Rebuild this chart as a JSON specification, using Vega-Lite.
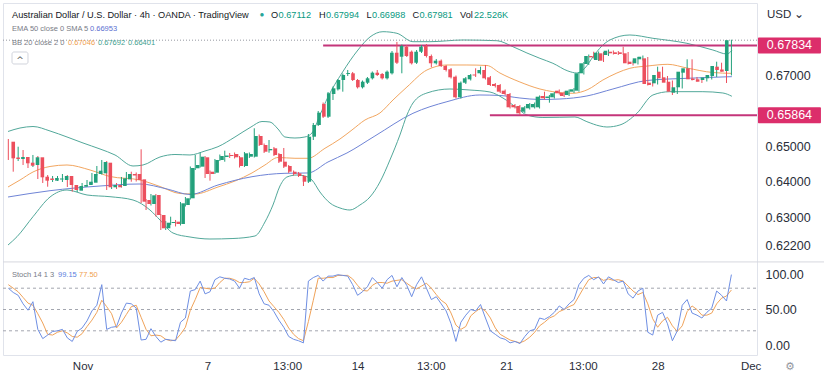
{
"$schema": "https://vega.github.io/schema/vega-lite/v6.json",
"width": 754, "height": 352,
"autosize": {"type": "none"},
"padding": {"left": 3, "top": 3, "right": 67, "bottom": 30},
"background": "white",
"config": {"view": {"stroke": "#e0e3eb"}, "font": "Liberation Sans", "text": {"font": "Liberation Sans"}},
"datasets": {
"candles": [
{"i":0,"o":0.65121,"h":0.65197,"l":0.64606,"c":0.64653},
{"i":1,"o":0.64676,"h":0.64803,"l":0.64276,"c":0.64634},
{"i":2,"o":0.64634,"h":0.64980,"l":0.64577,"c":0.64690},
{"i":3,"o":0.64690,"h":0.64887,"l":0.64465,"c":0.64513},
{"i":4,"o":0.64530,"h":0.64577,"l":0.64380,"c":0.64445},
{"i":5,"o":0.64465,"h":0.64747,"l":0.64408,"c":0.64682},
{"i":6,"o":0.64682,"h":0.64718,"l":0.64070,"c":0.64118},
{"i":7,"o":0.64135,"h":0.64183,"l":0.63958,"c":0.64023},
{"i":8,"o":0.64085,"h":0.64183,"l":0.63853,"c":0.64042},
{"i":9,"o":0.64023,"h":0.64155,"l":0.63986,"c":0.64099},
{"i":10,"o":0.64056,"h":0.64155,"l":0.64014,"c":0.64085},
{"i":11,"o":0.64042,"h":0.64211,"l":0.63986,"c":0.64155},
{"i":12,"o":0.64155,"h":0.64183,"l":0.63845,"c":0.63901},
{"i":13,"o":0.63901,"h":0.63930,"l":0.63713,"c":0.63761},
{"i":14,"o":0.63741,"h":0.63901,"l":0.63704,"c":0.63873},
{"i":15,"o":0.63853,"h":0.63958,"l":0.63817,"c":0.63901},
{"i":16,"o":0.63901,"h":0.64042,"l":0.63859,"c":0.63994},
{"i":17,"o":0.63966,"h":0.64239,"l":0.63930,"c":0.64211},
{"i":18,"o":0.64211,"h":0.64437,"l":0.64169,"c":0.64304},
{"i":19,"o":0.64231,"h":0.64606,"l":0.64197,"c":0.64549},
{"i":20,"o":0.64530,"h":0.64577,"l":0.63761,"c":0.63837},
{"i":21,"o":0.63837,"h":0.63958,"l":0.63789,"c":0.63901},
{"i":22,"o":0.63901,"h":0.63958,"l":0.63789,"c":0.63837},
{"i":23,"o":0.63873,"h":0.64127,"l":0.63831,"c":0.64090},
{"i":24,"o":0.64061,"h":0.64268,"l":0.64028,"c":0.64211},
{"i":25,"o":0.64211,"h":0.64276,"l":0.63994,"c":0.64169},
{"i":26,"o":0.64211,"h":0.64254,"l":0.64000,"c":0.64042},
{"i":27,"o":0.64061,"h":0.64907,"l":0.63394,"c":0.63431},
{"i":28,"o":0.63479,"h":0.63507,"l":0.63197,"c":0.63366},
{"i":29,"o":0.63366,"h":0.63648,"l":0.63324,"c":0.63611},
{"i":30,"o":0.63620,"h":0.63648,"l":0.63014,"c":0.63056},
{"i":31,"o":0.63056,"h":0.63084,"l":0.62634,"c":0.62682},
{"i":32,"o":0.62682,"h":0.62887,"l":0.62634,"c":0.62839},
{"i":33,"o":0.62831,"h":0.63009,"l":0.62775,"c":0.62859},
{"i":34,"o":0.62868,"h":0.62916,"l":0.62733,"c":0.62803},
{"i":35,"o":0.62803,"h":0.63423,"l":0.62761,"c":0.63386},
{"i":36,"o":0.63338,"h":0.63563,"l":0.63296,"c":0.63527},
{"i":37,"o":0.63527,"h":0.64423,"l":0.63493,"c":0.64380},
{"i":38,"o":0.64372,"h":0.64747,"l":0.64324,"c":0.64465},
{"i":39,"o":0.64418,"h":0.64811,"l":0.64394,"c":0.64699},
{"i":40,"o":0.64682,"h":0.64718,"l":0.64099,"c":0.64211},
{"i":41,"o":0.64276,"h":0.64310,"l":0.64023,"c":0.64211},
{"i":42,"o":0.64248,"h":0.64634,"l":0.64211,"c":0.64606},
{"i":43,"o":0.64606,"h":0.64760,"l":0.64577,"c":0.64718},
{"i":44,"o":0.64690,"h":0.64868,"l":0.64558,"c":0.64732},
{"i":45,"o":0.64747,"h":0.64803,"l":0.64662,"c":0.64718},
{"i":46,"o":0.64775,"h":0.64817,"l":0.64648,"c":0.64682},
{"i":47,"o":0.64682,"h":0.64718,"l":0.64394,"c":0.64437},
{"i":48,"o":0.64437,"h":0.64831,"l":0.64408,"c":0.64794},
{"i":49,"o":0.64699,"h":0.64817,"l":0.64662,"c":0.64775},
{"i":50,"o":0.64699,"h":0.65499,"l":0.64676,"c":0.65282},
{"i":51,"o":0.65282,"h":0.65324,"l":0.65000,"c":0.65028},
{"i":52,"o":0.65028,"h":0.65070,"l":0.64803,"c":0.64839},
{"i":53,"o":0.64879,"h":0.65169,"l":0.64811,"c":0.64916},
{"i":54,"o":0.64935,"h":0.64972,"l":0.64718,"c":0.64747},
{"i":55,"o":0.64775,"h":0.64803,"l":0.64521,"c":0.64558},
{"i":56,"o":0.64558,"h":0.64944,"l":0.64380,"c":0.64418},
{"i":57,"o":0.64437,"h":0.64465,"l":0.64239,"c":0.64276},
{"i":58,"o":0.64276,"h":0.64310,"l":0.64169,"c":0.64211},
{"i":59,"o":0.64231,"h":0.64268,"l":0.64127,"c":0.64155},
{"i":60,"o":0.64155,"h":0.64183,"l":0.63873,"c":0.63994},
{"i":61,"o":0.63994,"h":0.65338,"l":0.63958,"c":0.65262},
{"i":62,"o":0.65262,"h":0.65648,"l":0.65169,"c":0.65592},
{"i":63,"o":0.65592,"h":0.65986,"l":0.65563,"c":0.65938},
{"i":64,"o":0.66183,"h":0.66225,"l":0.65789,"c":0.65825},
{"i":65,"o":0.65825,"h":0.66521,"l":0.65789,"c":0.66485},
{"i":66,"o":0.66465,"h":0.66676,"l":0.66296,"c":0.66625},
{"i":67,"o":0.66597,"h":0.66887,"l":0.66563,"c":0.66859},
{"i":68,"o":0.66859,"h":0.67042,"l":0.66530,"c":0.67000},
{"i":69,"o":0.67028,"h":0.67141,"l":0.66972,"c":0.67056},
{"i":70,"o":0.67048,"h":0.67085,"l":0.66831,"c":0.66859},
{"i":71,"o":0.66859,"h":0.66887,"l":0.66620,"c":0.66654},
{"i":72,"o":0.66654,"h":0.66845,"l":0.66620,"c":0.66811},
{"i":73,"o":0.66783,"h":0.66944,"l":0.66746,"c":0.66907},
{"i":74,"o":0.66907,"h":0.67099,"l":0.66873,"c":0.67065},
{"i":75,"o":0.67065,"h":0.67141,"l":0.66972,"c":0.67000},
{"i":76,"o":0.67028,"h":0.67056,"l":0.66873,"c":0.66907},
{"i":77,"o":0.66907,"h":0.67127,"l":0.66873,"c":0.67093},
{"i":78,"o":0.67048,"h":0.67676,"l":0.67014,"c":0.67628},
{"i":79,"o":0.67628,"h":0.67932,"l":0.67310,"c":0.67346},
{"i":80,"o":0.67515,"h":0.67859,"l":0.67048,"c":0.67817},
{"i":81,"o":0.67797,"h":0.67845,"l":0.67507,"c":0.67535},
{"i":82,"o":0.67656,"h":0.67690,"l":0.67296,"c":0.67330},
{"i":83,"o":0.67346,"h":0.67704,"l":0.67310,"c":0.67656},
{"i":84,"o":0.67656,"h":0.67845,"l":0.67620,"c":0.67797},
{"i":85,"o":0.67817,"h":0.67873,"l":0.67493,"c":0.67535},
{"i":86,"o":0.67535,"h":0.67577,"l":0.67217,"c":0.67330},
{"i":87,"o":0.67330,"h":0.67451,"l":0.67296,"c":0.67403},
{"i":88,"o":0.67403,"h":0.67437,"l":0.67225,"c":0.67254},
{"i":89,"o":0.67254,"h":0.67282,"l":0.67099,"c":0.67141},
{"i":90,"o":0.67161,"h":0.67197,"l":0.66901,"c":0.66935},
{"i":91,"o":0.66952,"h":0.66986,"l":0.66338,"c":0.66372},
{"i":92,"o":0.66372,"h":0.66817,"l":0.66338,"c":0.66783},
{"i":93,"o":0.66783,"h":0.66944,"l":0.66746,"c":0.66907},
{"i":94,"o":0.66879,"h":0.67028,"l":0.66845,"c":0.67000},
{"i":95,"o":0.67014,"h":0.67189,"l":0.66944,"c":0.66986},
{"i":96,"o":0.67048,"h":0.67234,"l":0.67014,"c":0.67141},
{"i":97,"o":0.67141,"h":0.67282,"l":0.66873,"c":0.66907},
{"i":98,"o":0.66935,"h":0.66972,"l":0.66690,"c":0.66718},
{"i":99,"o":0.66746,"h":0.66775,"l":0.66648,"c":0.66690},
{"i":100,"o":0.66718,"h":0.66746,"l":0.66493,"c":0.66530},
{"i":101,"o":0.66558,"h":0.66592,"l":0.66423,"c":0.66465},
{"i":102,"o":0.66465,"h":0.66493,"l":0.66056,"c":0.66090},
{"i":103,"o":0.66155,"h":0.66183,"l":0.66056,"c":0.66090},
{"i":104,"o":0.66127,"h":0.66155,"l":0.65870,"c":0.65921},
{"i":105,"o":0.65966,"h":0.66127,"l":0.65930,"c":0.66090},
{"i":106,"o":0.66062,"h":0.66211,"l":0.66028,"c":0.66183},
{"i":107,"o":0.66090,"h":0.66225,"l":0.66056,"c":0.66183},
{"i":108,"o":0.66090,"h":0.66423,"l":0.66056,"c":0.66389},
{"i":109,"o":0.66408,"h":0.66530,"l":0.66310,"c":0.66344},
{"i":110,"o":0.66352,"h":0.66437,"l":0.66220,"c":0.66394},
{"i":111,"o":0.66372,"h":0.66521,"l":0.66338,"c":0.66485},
{"i":112,"o":0.66558,"h":0.66592,"l":0.66451,"c":0.66485},
{"i":113,"o":0.66501,"h":0.66535,"l":0.66380,"c":0.66408},
{"i":114,"o":0.66437,"h":0.66592,"l":0.66408,"c":0.66558},
{"i":115,"o":0.66530,"h":0.66634,"l":0.66493,"c":0.66597},
{"i":116,"o":0.66558,"h":0.67085,"l":0.66530,"c":0.67048},
{"i":117,"o":0.67048,"h":0.67366,"l":0.67014,"c":0.67330},
{"i":118,"o":0.67310,"h":0.67577,"l":0.67282,"c":0.67535},
{"i":119,"o":0.67535,"h":0.67656,"l":0.67465,"c":0.67498},
{"i":120,"o":0.67423,"h":0.67662,"l":0.67394,"c":0.67628},
{"i":121,"o":0.67611,"h":0.67648,"l":0.67366,"c":0.67403},
{"i":122,"o":0.67563,"h":0.67718,"l":0.67535,"c":0.67684},
{"i":123,"o":0.67656,"h":0.67690,"l":0.67577,"c":0.67611},
{"i":124,"o":0.67639,"h":0.67676,"l":0.67563,"c":0.67592},
{"i":125,"o":0.67639,"h":0.67797,"l":0.67563,"c":0.67592},
{"i":126,"o":0.67611,"h":0.67648,"l":0.67296,"c":0.67330},
{"i":127,"o":0.67375,"h":0.67409,"l":0.67268,"c":0.67310},
{"i":128,"o":0.67330,"h":0.67507,"l":0.67296,"c":0.67470},
{"i":129,"o":0.67442,"h":0.67549,"l":0.67409,"c":0.67515},
{"i":130,"o":0.67470,"h":0.67507,"l":0.66704,"c":0.66746},
{"i":131,"o":0.66783,"h":0.66817,"l":0.66676,"c":0.66718},
{"i":132,"o":0.66766,"h":0.67234,"l":0.66732,"c":0.67000},
{"i":133,"o":0.67093,"h":0.67234,"l":0.66873,"c":0.66907},
{"i":134,"o":0.66935,"h":0.66972,"l":0.66746,"c":0.66783},
{"i":135,"o":0.66811,"h":0.66845,"l":0.66437,"c":0.66530},
{"i":136,"o":0.66501,"h":0.66690,"l":0.66465,"c":0.66654},
{"i":137,"o":0.66654,"h":0.67127,"l":0.66620,"c":0.67093},
{"i":138,"o":0.67065,"h":0.67442,"l":0.67028,"c":0.67189},
{"i":139,"o":0.67189,"h":0.67442,"l":0.66845,"c":0.66879},
{"i":140,"o":0.66901,"h":0.66944,"l":0.66817,"c":0.66859},
{"i":141,"o":0.66879,"h":0.66915,"l":0.66775,"c":0.66811},
{"i":142,"o":0.66859,"h":0.66972,"l":0.66817,"c":0.66930},
{"i":143,"o":0.66907,"h":0.67042,"l":0.66873,"c":0.67000},
{"i":144,"o":0.66972,"h":0.67375,"l":0.66944,"c":0.67254},
{"i":145,"o":0.67234,"h":0.67346,"l":0.67099,"c":0.67141},
{"i":146,"o":0.67155,"h":0.67197,"l":0.66775,"c":0.67093},
{"i":147,"o":0.67112,"h":0.67994,"l":0.66988,"c":0.67981}
],
"bands": [
{"i":-0.06,"s":"up","v":0.65409},{"i":2.38,"s":"up","v":0.65507},{"i":5.02,"s":"up","v":0.65549},{"i":8.48,"s":"up","v":0.65423},{"i":11.93,"s":"up","v":0.65254},{"i":15.18,"s":"up","v":0.65085},{"i":18.64,"s":"up","v":0.64916},{"i":21.69,"s":"up","v":0.64747},{"i":25.35,"s":"up","v":0.64437},{"i":27.38,"s":"up","v":0.64465},{"i":30.83,"s":"up","v":0.64690},{"i":33.88,"s":"up","v":0.64761},{"i":36.93,"s":"up","v":0.64747},{"i":39.98,"s":"up","v":0.64859},{"i":42.62,"s":"up","v":0.64980},{"i":46.08,"s":"up","v":0.65254},{"i":49.33,"s":"up","v":0.65535},{"i":51.57,"s":"up","v":0.65690},{"i":53.19,"s":"up","v":0.65676},{"i":54.82,"s":"up","v":0.65479},{"i":56.24,"s":"up","v":0.65254},{"i":58.27,"s":"up","v":0.65225},{"i":60.3,"s":"up","v":0.65254},{"i":61.73,"s":"up","v":0.65366},{"i":63.35,"s":"up","v":0.65873},{"i":64.98,"s":"up","v":0.66380},{"i":67.83,"s":"up","v":0.67056},{"i":71.08,"s":"up","v":0.67704},{"i":73.52,"s":"up","v":0.68070},{"i":76.16,"s":"up","v":0.68220},{"i":79.0,"s":"up","v":0.68175},{"i":82.26,"s":"up","v":0.67938},{"i":85.71,"s":"up","v":0.67938},{"i":92.42,"s":"up","v":0.67986},{"i":99.33,"s":"up","v":0.67966},{"i":102.58,"s":"up","v":0.67797},{"i":105.43,"s":"up","v":0.67620},{"i":108.07,"s":"up","v":0.67470},{"i":110.71,"s":"up","v":0.67330},{"i":113.76,"s":"up","v":0.67113},{"i":115.59,"s":"up","v":0.67056},{"i":117.22,"s":"up","v":0.67197},{"i":118.84,"s":"up","v":0.67507},{"i":120.67,"s":"up","v":0.67817},{"i":122.3,"s":"up","v":0.67986},{"i":126.36,"s":"up","v":0.68127},{"i":131.04,"s":"up","v":0.68034},{"i":137.95,"s":"up","v":0.67893},{"i":143.23,"s":"up","v":0.67704},{"i":146.07,"s":"up","v":0.67592},{"i":147.09,"s":"up","v":0.67692},
{"i":-0.06,"s":"mid","v":0.63845},{"i":2.38,"s":"mid","v":0.64042},{"i":5.02,"s":"mid","v":0.64268},{"i":8.48,"s":"mid","v":0.64423},{"i":11.93,"s":"mid","v":0.64465},{"i":16.61,"s":"mid","v":0.64324},{"i":20.67,"s":"mid","v":0.64141},{"i":26.77,"s":"mid","v":0.64042},{"i":30.83,"s":"mid","v":0.63859},{"i":34.9,"s":"mid","v":0.63662},{"i":37.95,"s":"mid","v":0.63648},{"i":42.62,"s":"mid","v":0.63845},{"i":46.08,"s":"mid","v":0.64014},{"i":49.53,"s":"mid","v":0.64240},{"i":52.17,"s":"mid","v":0.64465},{"i":54.82,"s":"mid","v":0.64676},{"i":58.27,"s":"mid","v":0.64654},{"i":60.91,"s":"mid","v":0.64654},{"i":64.37,"s":"mid","v":0.64935},{"i":67.42,"s":"mid","v":0.65197},{"i":69.86,"s":"mid","v":0.65451},{"i":72.5,"s":"mid","v":0.65732},{"i":75.55,"s":"mid","v":0.65930},{"i":78.2,"s":"mid","v":0.66296},{"i":81.04,"s":"mid","v":0.66662},{"i":85.1,"s":"mid","v":0.67141},{"i":89.17,"s":"mid","v":0.67282},{"i":93.23,"s":"mid","v":0.67282},{"i":97.3,"s":"mid","v":0.67268},{"i":99.94,"s":"mid","v":0.67056},{"i":104.0,"s":"mid","v":0.66803},{"i":108.07,"s":"mid","v":0.66606},{"i":110.71,"s":"mid","v":0.66530},{"i":114.78,"s":"mid","v":0.66485},{"i":117.83,"s":"mid","v":0.66592},{"i":120.87,"s":"mid","v":0.66859},{"i":123.72,"s":"mid","v":0.67056},{"i":126.36,"s":"mid","v":0.67189},{"i":130.02,"s":"mid","v":0.67254},{"i":134.09,"s":"mid","v":0.67301},{"i":137.95,"s":"mid","v":0.67197},{"i":143.23,"s":"mid","v":0.67070},{"i":147.09,"s":"mid","v":0.67046},
{"i":-0.06,"s":"ema","v":0.63563},{"i":8.48,"s":"ema","v":0.63741},{"i":18.64,"s":"ema","v":0.63873},{"i":26.77,"s":"ema","v":0.63930},{"i":32.26,"s":"ema","v":0.63789},{"i":36.93,"s":"ema","v":0.63634},{"i":42.62,"s":"ema","v":0.63901},{"i":49.53,"s":"ema","v":0.64135},{"i":56.24,"s":"ema","v":0.64231},{"i":60.91,"s":"ema","v":0.64240},{"i":64.98,"s":"ema","v":0.64549},{"i":68.84,"s":"ema","v":0.64803},{"i":74.53,"s":"ema","v":0.65282},{"i":82.26,"s":"ema","v":0.65921},{"i":89.17,"s":"ema","v":0.66248},{"i":95.87,"s":"ema","v":0.66437},{"i":99.94,"s":"ema","v":0.66423},{"i":104.0,"s":"ema","v":0.66352},{"i":108.07,"s":"ema","v":0.66310},{"i":112.13,"s":"ema","v":0.66324},{"i":117.62,"s":"ema","v":0.66409},{"i":122.91,"s":"ema","v":0.66606},{"i":129.82,"s":"ema","v":0.66845},{"i":137.95,"s":"ema","v":0.66907},{"i":147.09,"s":"ema","v":0.66953},
{"i":-0.06,"s":"lo","v":0.62211},{"i":1.77,"s":"lo","v":0.62445},{"i":5.02,"s":"lo","v":0.63009},{"i":8.48,"s":"lo","v":0.63563},{"i":11.93,"s":"lo","v":0.63761},{"i":16.0,"s":"lo","v":0.63620},{"i":20.67,"s":"lo","v":0.63572},{"i":25.35,"s":"lo","v":0.63479},{"i":28.8,"s":"lo","v":0.63197},{"i":30.83,"s":"lo","v":0.62916},{"i":33.48,"s":"lo","v":0.62549},{"i":36.93,"s":"lo","v":0.62437},{"i":40.99,"s":"lo","v":0.62380},{"i":45.67,"s":"lo","v":0.62394},{"i":50.14,"s":"lo","v":0.62465},{"i":52.17,"s":"lo","v":0.62859},{"i":53.8,"s":"lo","v":0.63338},{"i":55.22,"s":"lo","v":0.63873},{"i":56.65,"s":"lo","v":0.64127},{"i":58.68,"s":"lo","v":0.64183},{"i":60.3,"s":"lo","v":0.64155},{"i":61.73,"s":"lo","v":0.64042},{"i":63.35,"s":"lo","v":0.63704},{"i":65.39,"s":"lo","v":0.63394},{"i":67.42,"s":"lo","v":0.63254},{"i":69.45,"s":"lo","v":0.63197},{"i":71.48,"s":"lo","v":0.63338},{"i":73.52,"s":"lo","v":0.63563},{"i":75.55,"s":"lo","v":0.63986},{"i":77.58,"s":"lo","v":0.64606},{"i":79.61,"s":"lo","v":0.65310},{"i":81.04,"s":"lo","v":0.65873},{"i":82.26,"s":"lo","v":0.66211},{"i":85.1,"s":"lo","v":0.66493},{"i":89.78,"s":"lo","v":0.66606},{"i":93.84,"s":"lo","v":0.66577},{"i":97.91,"s":"lo","v":0.66521},{"i":100.55,"s":"lo","v":0.66352},{"i":103.4,"s":"lo","v":0.66070},{"i":105.43,"s":"lo","v":0.65873},{"i":108.68,"s":"lo","v":0.65803},{"i":112.13,"s":"lo","v":0.65809},{"i":115.18,"s":"lo","v":0.65817},{"i":117.62,"s":"lo","v":0.65685},{"i":120.26,"s":"lo","v":0.65563},{"i":121.69,"s":"lo","v":0.65535},{"i":124.33,"s":"lo","v":0.65592},{"i":127.78,"s":"lo","v":0.65921},{"i":131.04,"s":"lo","v":0.66437},{"i":134.49,"s":"lo","v":0.66530},{"i":141.2,"s":"lo","v":0.66530},{"i":145.26,"s":"lo","v":0.66493},{"i":147.09,"s":"lo","v":0.66401}
],
"stoch": [
{"i":0,"k":80,"d":85},{"i":1,"k":74,"d":80},{"i":2,"k":70,"d":75},{"i":3,"k":58,"d":67},{"i":4,"k":49,"d":59},{"i":5,"k":61,"d":56},{"i":6,"k":22,"d":44},{"i":7,"k":9,"d":31},{"i":8,"k":14,"d":15},{"i":9,"k":19,"d":14},
{"i":10,"k":20,"d":18},{"i":11,"k":22,"d":20},{"i":12,"k":10,"d":17},{"i":13,"k":5,"d":12},{"i":14,"k":19,"d":11},{"i":15,"k":24,"d":16},{"i":16,"k":34,"d":26},{"i":17,"k":48,"d":35},{"i":18,"k":56,"d":46},{"i":19,"k":85,"d":63},
{"i":20,"k":22,"d":54},{"i":21,"k":25,"d":44},{"i":22,"k":26,"d":24},{"i":23,"k":45,"d":32},{"i":24,"k":59,"d":43},{"i":25,"k":58,"d":54},{"i":26,"k":52,"d":56},{"i":27,"k":7,"d":39},{"i":28,"k":8,"d":22},{"i":29,"k":23,"d":13},
{"i":30,"k":12,"d":14},{"i":31,"k":4,"d":13},{"i":32,"k":8,"d":8},{"i":33,"k":7,"d":6},{"i":34,"k":6,"d":7},{"i":35,"k":32,"d":15},{"i":36,"k":38,"d":25},{"i":37,"k":76,"d":49},{"i":38,"k":78,"d":64},{"i":39,"k":90,"d":81},
{"i":40,"k":72,"d":80},{"i":41,"k":75,"d":79},{"i":42,"k":92,"d":80},{"i":43,"k":96,"d":88},{"i":44,"k":94,"d":94},{"i":45,"k":93,"d":94},{"i":46,"k":90,"d":92},{"i":47,"k":80,"d":88},{"i":48,"k":94,"d":88},{"i":49,"k":92,"d":89},
{"i":50,"k":95,"d":94},{"i":51,"k":72,"d":86},{"i":52,"k":58,"d":75},{"i":53,"k":56,"d":62},{"i":54,"k":47,"d":54},{"i":55,"k":35,"d":46},{"i":56,"k":25,"d":36},{"i":57,"k":12,"d":24},{"i":58,"k":8,"d":15},{"i":59,"k":6,"d":9},
{"i":60,"k":3,"d":6},{"i":61,"k":90,"d":33},{"i":62,"k":95,"d":63},{"i":63,"k":98,"d":94},{"i":64,"k":90,"d":94},{"i":65,"k":97,"d":95},{"i":66,"k":97,"d":95},{"i":67,"k":99,"d":98},{"i":68,"k":98,"d":98},{"i":69,"k":97,"d":98},
{"i":70,"k":85,"d":93},{"i":71,"k":70,"d":84},{"i":72,"k":75,"d":77},{"i":73,"k":82,"d":76},{"i":74,"k":95,"d":84},{"i":75,"k":88,"d":88},{"i":76,"k":80,"d":88},{"i":77,"k":92,"d":87},{"i":78,"k":98,"d":90},{"i":79,"k":82,"d":91},
{"i":80,"k":95,"d":92},{"i":81,"k":84,"d":87},{"i":82,"k":68,"d":82},{"i":83,"k":85,"d":79},{"i":84,"k":96,"d":83},{"i":85,"k":80,"d":87},{"i":86,"k":64,"d":80},{"i":87,"k":68,"d":71},{"i":88,"k":58,"d":63},{"i":89,"k":48,"d":58},
{"i":90,"k":30,"d":45},{"i":91,"k":5,"d":28},{"i":92,"k":32,"d":22},{"i":93,"k":42,"d":26},{"i":94,"k":50,"d":41},{"i":95,"k":48,"d":47},{"i":96,"k":57,"d":52},{"i":97,"k":38,"d":48},{"i":98,"k":20,"d":38},{"i":99,"k":15,"d":24},
{"i":100,"k":10,"d":15},{"i":101,"k":8,"d":11},{"i":102,"k":3,"d":7},{"i":103,"k":5,"d":5},{"i":104,"k":2,"d":3},{"i":105,"k":12,"d":6},{"i":106,"k":20,"d":11},{"i":107,"k":22,"d":18},{"i":108,"k":38,"d":27},{"i":109,"k":36,"d":32},
{"i":110,"k":40,"d":38},{"i":111,"k":46,"d":41},{"i":112,"k":55,"d":47},{"i":113,"k":50,"d":50},{"i":114,"k":58,"d":54},{"i":115,"k":64,"d":57},{"i":116,"k":85,"d":69},{"i":117,"k":94,"d":81},{"i":118,"k":98,"d":92},{"i":119,"k":92,"d":95},
{"i":120,"k":96,"d":95},{"i":121,"k":86,"d":91},{"i":122,"k":96,"d":93},{"i":123,"k":92,"d":91},{"i":124,"k":88,"d":92},{"i":125,"k":90,"d":90},{"i":126,"k":72,"d":83},{"i":127,"k":66,"d":76},{"i":128,"k":76,"d":71},{"i":129,"k":80,"d":74},
{"i":130,"k":18,"d":58},{"i":131,"k":14,"d":37},{"i":132,"k":42,"d":25},{"i":133,"k":46,"d":34},{"i":134,"k":30,"d":39},{"i":135,"k":6,"d":27},{"i":136,"k":20,"d":19},{"i":137,"k":56,"d":27},{"i":138,"k":64,"d":47},{"i":139,"k":45,"d":55},
{"i":140,"k":42,"d":50},{"i":141,"k":38,"d":42},{"i":142,"k":46,"d":42},{"i":143,"k":52,"d":45},{"i":144,"k":76,"d":58},{"i":145,"k":70,"d":66},{"i":146,"k":62,"d":69},{"i":147,"k":99.15,"d":77.5}
],
"levels": [{"level":0.67834,"start":64,"label":"0.67834"},{"level":0.65864,"start":97.9,"label":"0.65864"}],
"guides": [{"v":20},{"v":50},{"v":80}]
},
"layer": [
{"data":{"name":"bands"},"mark":{"type":"line","strokeWidth":1,"interpolate":"monotone"},
"encoding":{"x":{"field":"i","type":"quantitative","scale":{"domain":[-1.08,152.2],"nice":false,"zero":false},"axis":null},
"y":{"field":"v","type":"quantitative","scale":{"domain":[0.62,0.68],"range":[249.5,36.5],"zero":false,"nice":false},"axis":null},
"color":{"field":"s","type":"nominal","scale":{"domain":["up","mid","lo","ema"],"range":["#52a89a","#f2a660","#52a89a","#6f84d6"]},"legend":null}}},
{"data":{"values":[{"p":0.67981}]},"mark":{"type":"rule","stroke":"#9598a1","strokeWidth":1,"strokeDash":[1,2]},
"encoding":{"x":{"datum":-1.08,"type":"quantitative","scale":{"domain":[-1.08,152.2],"nice":false,"zero":false},"axis":null},"x2":{"datum":152.2},
"y":{"field":"p","type":"quantitative","scale":{"domain":[0.62,0.68],"range":[249.5,36.5],"zero":false,"nice":false},"axis":null}}},
{"data":{"name":"levels"},"mark":{"type":"rule","stroke":"#c4357a","strokeWidth":2},
"encoding":{"x":{"field":"start","type":"quantitative","scale":{"domain":[-1.08,152.2],"nice":false,"zero":false},"axis":null},"x2":{"datum":152.2},
"y":{"field":"level","type":"quantitative","scale":{"domain":[0.62,0.68],"range":[249.5,36.5],"zero":false,"nice":false},"axis":null}}},
{"data":{"name":"candles"},"mark":{"type":"rule","strokeWidth":1},
"encoding":{"x":{"field":"i","type":"quantitative","scale":{"domain":[-1.08,152.2],"nice":false,"zero":false},"axis":null},
"y":{"field":"l","type":"quantitative","scale":{"domain":[0.62,0.68],"range":[249.5,36.5],"zero":false,"nice":false},"axis":null},"y2":{"field":"h"},
"color":{"condition":{"test":"datum.c >= datum.o","value":"#22a07b"},"value":"#ec4f5d"}}},
{"data":{"name":"candles"},"mark":{"type":"bar","size":3.6},
"encoding":{"x":{"field":"i","type":"quantitative","scale":{"domain":[-1.08,152.2],"nice":false,"zero":false},"axis":null},
"y":{"field":"o","type":"quantitative","scale":{"domain":[0.62,0.68],"range":[249.5,36.5],"zero":false,"nice":false},
"axis":{"orient":"right","values":[0.622,0.63,0.64,0.65,0.67],"format":".5f","grid":false,"domain":false,"ticks":false,"labelPadding":8,"labelAlign":"left","labelFontSize":12.5,"labelColor":"#2a2e39","labelFont":"Liberation Sans","title":null}},
"y2":{"field":"c"},
"color":{"condition":{"test":"datum.c >= datum.o","value":"#22a07b"},"value":"#ec4f5d"}}},
{"data":{"name":"levels"},"mark":{"type":"rect","fill":"#dc2e6b","yOffset":-8,"y2Offset":8,"cornerRadius":1},
"encoding":{"x":{"datum":152.4,"type":"quantitative","scale":{"domain":[-1.08,152.2],"nice":false,"zero":false},"axis":null},"x2":{"datum":165.2},
"y":{"field":"level","type":"quantitative","scale":{"domain":[0.62,0.68],"range":[249.5,36.5],"zero":false,"nice":false},"axis":null},"y2":{"field":"level"}}},
{"data":{"name":"levels"},"mark":{"type":"text","color":"white","fontSize":12.5,"align":"center","baseline":"middle"},
"encoding":{"x":{"datum":158.8,"type":"quantitative","scale":{"domain":[-1.08,152.2],"nice":false,"zero":false},"axis":null},
"y":{"field":"level","type":"quantitative","scale":{"domain":[0.62,0.68],"range":[249.5,36.5],"zero":false,"nice":false},"axis":null},"text":{"field":"label"}}},
{"data":{"values":[{"t":"Australian Dollar / U.S. Dollar · 4h · OANDA · TradingView","x":0.75},{"t":"O","x":53.4},{"t":"H","x":63.16},{"t":"L","x":72.82},{"t":"C","x":82.17},{"t":"Vol","x":91.83}]},
"mark":{"type":"text","fontSize":9.2,"color":"#131722","align":"left","baseline":"middle"},
"encoding":{"x":{"field":"x","type":"quantitative","scale":{"domain":[-1.08,152.2],"nice":false,"zero":false},"axis":null},
"y":{"datum":0.6869,"type":"quantitative","scale":{"domain":[0.62,0.68],"range":[249.5,36.5],"zero":false,"nice":false},"axis":null},"text":{"field":"t"}}},
{"data":{"values":[{"t":"0.67112","x":54.93},{"t":"0.67994","x":64.58},{"t":"0.66988","x":73.94},{"t":"0.67981","x":83.59},{"t":"22.526K","x":94.67}]},
"mark":{"type":"text","fontSize":9.2,"color":"#089981","align":"left","baseline":"middle"},
"encoding":{"x":{"field":"x","type":"quantitative","scale":{"domain":[-1.08,152.2],"nice":false,"zero":false},"axis":null},
"y":{"datum":0.6869,"type":"quantitative","scale":{"domain":[0.62,0.68],"range":[249.5,36.5],"zero":false,"nice":false},"axis":null},"text":{"field":"t"}}},
{"data":{"values":[{"t":"●","x":51.57}]},
"mark":{"type":"text","fontSize":8,"color":"#26a69a","align":"center","baseline":"middle"},
"encoding":{"x":{"field":"x","type":"quantitative","scale":{"domain":[-1.08,152.2],"nice":false,"zero":false},"axis":null},
"y":{"datum":0.6869,"type":"quantitative","scale":{"domain":[0.62,0.68],"range":[249.5,36.5],"zero":false,"nice":false},"axis":null},"text":{"field":"t"}}},
{"data":{"values":[{"t":"EMA 50 close 0 SMA 5","x":0.75,"y":0.68296},{"t":"BB 20 close 2 0","x":0.75,"y":0.67888}]},
"mark":{"type":"text","fontSize":7.5,"color":"#787b86","align":"left","baseline":"middle"},
"encoding":{"x":{"field":"x","type":"quantitative","scale":{"domain":[-1.08,152.2],"nice":false,"zero":false},"axis":null},
"y":{"field":"y","type":"quantitative","scale":{"domain":[0.62,0.68],"range":[249.5,36.5],"zero":false,"nice":false},"axis":null},"text":{"field":"t"}}},
{"data":{"values":[{"t":"0.66953","x":16.6,"y":0.68296}]},
"mark":{"type":"text","fontSize":7.5,"color":"#5b6fd0","align":"left","baseline":"middle"},
"encoding":{"x":{"field":"x","type":"quantitative","scale":{"domain":[-1.08,152.2],"nice":false,"zero":false},"axis":null},
"y":{"field":"y","type":"quantitative","scale":{"domain":[0.62,0.68],"range":[249.5,36.5],"zero":false,"nice":false},"axis":null},"text":{"field":"t"}}},
{"data":{"values":[{"t":"0.67046","x":12.13,"y":0.67888}]},
"mark":{"type":"text","fontSize":7.5,"color":"#f0a050","align":"left","baseline":"middle"},
"encoding":{"x":{"field":"x","type":"quantitative","scale":{"domain":[-1.08,152.2],"nice":false,"zero":false},"axis":null},
"y":{"field":"y","type":"quantitative","scale":{"domain":[0.62,0.68],"range":[249.5,36.5],"zero":false,"nice":false},"axis":null},"text":{"field":"t"}}},
{"data":{"values":[{"t":"0.67692","x":18.23,"y":0.67888},{"t":"0.66401","x":24.33,"y":0.67888}]},
"mark":{"type":"text","fontSize":7.5,"color":"#3f9f8f","align":"left","baseline":"middle"},
"encoding":{"x":{"field":"x","type":"quantitative","scale":{"domain":[-1.08,152.2],"nice":false,"zero":false},"axis":null},
"y":{"field":"y","type":"quantitative","scale":{"domain":[0.62,0.68],"range":[249.5,36.5],"zero":false,"nice":false},"axis":null},"text":{"field":"t"}}},
{"data":{"values":[{"x1":0.75,"x2":4.0,"y1":0.67648,"y2":0.6731}]},
"mark":{"type":"rect","fill":"white","stroke":"#d1d4dc","strokeWidth":1,"cornerRadius":2},
"encoding":{"x":{"field":"x1","type":"quantitative","scale":{"domain":[-1.08,152.2],"nice":false,"zero":false},"axis":null},"x2":{"field":"x2"},
"y":{"field":"y1","type":"quantitative","scale":{"domain":[0.62,0.68],"range":[249.5,36.5],"zero":false,"nice":false},"axis":null},"y2":{"field":"y2"}}},
{"data":{"values":[{"t":"^","x":2.38,"y":0.67479}]},
"mark":{"type":"text","fontSize":9,"font":"DejaVu Sans","color":"#555","align":"center","baseline":"middle","dy":2},
"encoding":{"x":{"field":"x","type":"quantitative","scale":{"domain":[-1.08,152.2],"nice":false,"zero":false},"axis":null},
"y":{"field":"y","type":"quantitative","scale":{"domain":[0.62,0.68],"range":[249.5,36.5],"zero":false,"nice":false},"axis":null},"text":{"field":"t"}}},
{"data":{"values":[{"t":"USD ⌄","x":154.23,"y":0.6869}]},
"mark":{"type":"text","fontSize":11.5,"color":"#2a2e39","align":"left","baseline":"middle"},
"encoding":{"x":{"field":"x","type":"quantitative","scale":{"domain":[-1.08,152.2],"nice":false,"zero":false},"axis":null},
"y":{"field":"y","type":"quantitative","scale":{"domain":[0.62,0.68],"range":[249.5,36.5],"zero":false,"nice":false},"axis":null},"text":{"field":"t"}}},
{"data":{"name":"guides"},"mark":{"type":"rule","stroke":"#a3a6af","strokeWidth":1,"strokeDash":[3,3]},
"encoding":{"x":{"datum":-1.08,"type":"quantitative","scale":{"domain":[-1.08,152.2],"nice":false,"zero":false},"axis":null},"x2":{"datum":152.2},
"y":{"field":"v","type":"quantitative","scale":{"domain":[0,100],"range":[342,271],"zero":false,"nice":false},"axis":null}}},
{"data":{"values":[{"v":117}]},"mark":{"type":"rule","stroke":"#d6d8de","strokeWidth":1},
"encoding":{"x":{"datum":-1.08,"type":"quantitative","scale":{"domain":[-1.08,152.2],"nice":false,"zero":false},"axis":null},"x2":{"datum":168},
"y":{"field":"v","type":"quantitative","scale":{"domain":[0,100],"range":[342,271],"zero":false,"nice":false},"axis":null}}},
{"data":{"name":"stoch"},"mark":{"type":"line","stroke":"#f0a35a","strokeWidth":1},
"encoding":{"x":{"field":"i","type":"quantitative","scale":{"domain":[-1.08,152.2],"nice":false,"zero":false},"axis":null},
"y":{"field":"d","type":"quantitative","scale":{"domain":[0,100],"range":[342,271],"zero":false,"nice":false},"axis":null}}},
{"data":{"name":"stoch"},"mark":{"type":"line","stroke":"#6f8fe3","strokeWidth":1},
"encoding":{"x":{"field":"i","type":"quantitative","scale":{"domain":[-1.08,152.2],"nice":false,"zero":false},
"axis":{"values":[15.1,40.5,56.7,71.0,85.9,101.2,116.8,132.0,150.9],
"labelExpr":"datum.value < 20 ? 'Nov' : datum.value < 50 ? '7' : datum.value < 60 ? '13:00' : datum.value < 80 ? '14' : datum.value < 90 ? '13:00' : datum.value < 110 ? '21' : datum.value < 120 ? '13:00' : datum.value < 140 ? '28' : 'Dec'",
"grid":false,"domain":false,"ticks":false,"labelPadding":5,"labelFontSize":11.5,"labelColor":"#2a2e39","labelFont":"Liberation Sans","title":null,"labelFlush":false,"labelOverlap":false}},
"y":{"field":"k","type":"quantitative","scale":{"domain":[0,100],"range":[342,271],"zero":false,"nice":false},
"axis":{"orient":"right","values":[0,50,100],"format":".2f","grid":false,"domain":false,"ticks":false,"labelPadding":8,"labelAlign":"left","labelFontSize":12.5,"labelColor":"#2a2e39","labelFont":"Liberation Sans","title":null}}}},
{"data":{"values":[{"t":"Stoch 14 1 3","x":0.75}]},
"mark":{"type":"text","fontSize":7.5,"color":"#787b86","align":"left","baseline":"middle"},
"encoding":{"x":{"field":"x","type":"quantitative","scale":{"domain":[-1.08,152.2],"nice":false,"zero":false},"axis":null},
"y":{"datum":98.6,"type":"quantitative","scale":{"domain":[0,100],"range":[342,271],"zero":false,"nice":false},"axis":null},"text":{"field":"t"}}},
{"data":{"values":[{"t":"99.15","x":10.1}]},
"mark":{"type":"text","fontSize":7.5,"color":"#5b7fe0","align":"left","baseline":"middle"},
"encoding":{"x":{"field":"x","type":"quantitative","scale":{"domain":[-1.08,152.2],"nice":false,"zero":false},"axis":null},
"y":{"datum":98.6,"type":"quantitative","scale":{"domain":[0,100],"range":[342,271],"zero":false,"nice":false},"axis":null},"text":{"field":"t"}}},
{"data":{"values":[{"t":"77.50","x":14.37}]},
"mark":{"type":"text","fontSize":7.5,"color":"#f0a050","align":"left","baseline":"middle"},
"encoding":{"x":{"field":"x","type":"quantitative","scale":{"domain":[-1.08,152.2],"nice":false,"zero":false},"axis":null},
"y":{"datum":98.6,"type":"quantitative","scale":{"domain":[0,100],"range":[342,271],"zero":false,"nice":false},"axis":null},"text":{"field":"t"}}},
{"data":{"values":[{"t":"⚙","x":158.9}]},
"mark":{"type":"text","fontSize":11,"font":"DejaVu Sans","color":"#9598a1","align":"center","baseline":"middle"},
"encoding":{"x":{"field":"x","type":"quantitative","scale":{"domain":[-1.08,152.2],"nice":false,"zero":false},"axis":null},
"y":{"datum":-31,"type":"quantitative","scale":{"domain":[0,100],"range":[342,271],"zero":false,"nice":false},"axis":null},"text":{"field":"t"}}}
],
"resolve": {"scale": {"x": "independent", "y": "independent"}, "axis": {"x": "independent", "y": "independent"}}
}
